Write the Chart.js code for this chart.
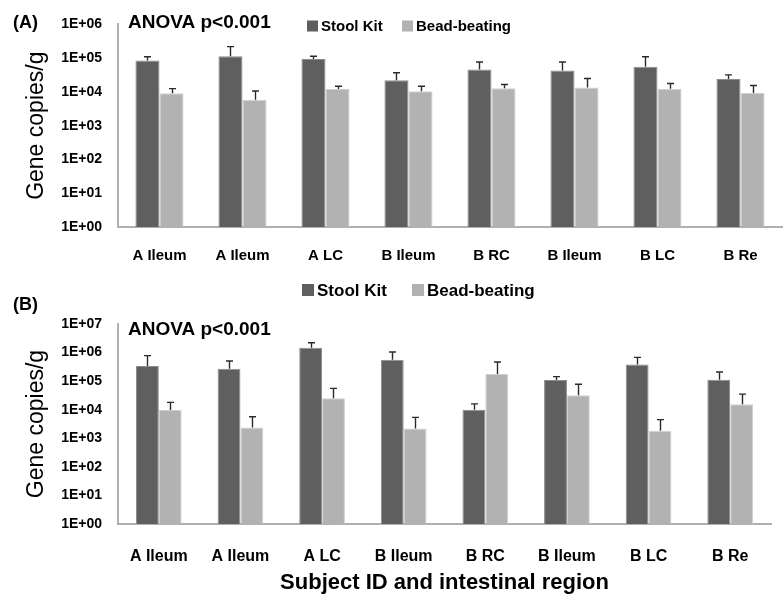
<!DOCTYPE html>
<html>
<head>
<meta charset="utf-8">
<script src="https://cdn.jsdelivr.net/npm/chart.js@4/dist/chart.umd.min.js"></script>
<style>
  html, body { margin: 0; padding: 0; background: #ffffff; }
  #wrap { position: relative; width: 783px; height: 599px; overflow: hidden; }
  #boxA { position: absolute; left: 0; top: 0; width: 783px; height: 275px; }
  #boxB { position: absolute; left: 0; top: 275px; width: 783px; height: 324px; }
</style>
</head>
<body>
<div id="wrap">
  <div id="boxA"><canvas id="chartA" width="783" height="275"></canvas></div>
  <div id="boxB"><canvas id="chartB" width="783" height="324"></canvas></div>
</div>
<script>
// ---------- data ----------
const categories = ['A Ileum', 'A Ileum', 'A LC', 'B Ileum', 'B RC', 'B Ileum', 'B LC', 'B Re'];
const seriesNames = ['Stool Kit', 'Bead-beating'];

// Panel A
const stoolA    = [86000, 114000, 95000, 22000, 46000, 43000, 56000, 24000];
const stoolAErr = [110000, 220000, 114000, 37000, 77000, 77000, 110000, 32000];
const beadA     = [9100, 5900, 12200, 10500, 12800, 13600, 12400, 9300];
const beadAErr  = [12500, 10700, 14800, 14800, 16600, 25000, 17700, 15500];

// Panel B
const stoolB    = [340000, 270000, 1480000, 560000, 10000, 110000, 380000, 112000];
const stoolBErr = [780000, 510000, 2200000, 1050000, 16000, 144000, 680000, 210000];
const beadB     = [9800, 2400, 25000, 2200, 178000, 32000, 1850, 15500];
const beadBErr  = [18000, 5700, 56000, 5400, 470000, 78000, 4500, 35000];

// Tick values and labels
const yTicksA = [1, 10, 100, 1000, 10000, 100000, 1000000];
const yTickLabelsA = ['1E+00', '1E+01', '1E+02', '1E+03', '1E+04', '1E+05', '1E+06'];
const yTicksB = [1, 10, 100, 1000, 10000, 100000, 1000000, 10000000];
const yTickLabelsB = ['1E+00', '1E+01', '1E+02', '1E+03', '1E+04', '1E+05', '1E+06', '1E+07'];

// Texts
const panelLabelA = '(A)';
const panelLabelB = '(B)';
const anovaText = 'ANOVA p<0.001';
const yTitle = 'Gene copies/g';
const xTitle = 'Subject ID and intestinal region';

// ---------- styles ----------
const FONT = "'Liberation Sans', Arial, sans-serif";
const DARK = '#5f5f5f';
const LIGHT = '#b2b2b2';
const AXIS = '#b0b0b0';

// error bar plugin: draws upper error whiskers from error arrays through the y scale
const errorBarPlugin = {
  id: 'errorBars',
  afterDatasetsDraw(chart) {
    const ctx = chart.ctx;
    const yScale = chart.scales.y;
    ctx.save();
    ctx.strokeStyle = '#2a2a2a';
    ctx.lineWidth = 1.4;
    chart.data.datasets.forEach((ds, d) => {
      const meta = chart.getDatasetMeta(d);
      if (!ds.errorTop) return;
      meta.data.forEach((el, i) => {
        const x = Math.round(el.x) + 0.5;
        const yTop = el.y;
        const yErr = yScale.getPixelForValue(ds.errorTop[i]);
        ctx.beginPath();
        ctx.moveTo(x, yTop);
        ctx.lineTo(x, yErr);
        ctx.moveTo(x - 3.5, yErr);
        ctx.lineTo(x + 3.5, yErr);
        ctx.stroke();
      });
    });
    ctx.restore();
  }
};

// annotation plugin: panel letter, ANOVA text, legend
function makeAnnotations(cfg) {
  return {
    id: 'annot',
    afterDraw(chart) {
      const ctx = chart.ctx;
      ctx.save();
      ctx.fillStyle = '#000';
      ctx.textBaseline = 'middle';
      ctx.textAlign = 'left';
      ctx.font = 'bold 18px ' + FONT;
      ctx.fillText(cfg.panel, 13, cfg.panelY);
      ctx.font = 'bold 19px ' + FONT;
      ctx.fillText(anovaText, 128, cfg.anovaY);
      // legend
      ctx.font = 'bold ' + cfg.legendSize + 'px ' + FONT;
      chart.data.datasets.forEach((ds, d) => {
        const item = cfg.legend[d];
        ctx.fillStyle = ds.backgroundColor;
        ctx.fillRect(item.x, cfg.legendY - cfg.sq / 2, cfg.sq, cfg.sq);
        ctx.fillStyle = '#000';
        ctx.fillText(ds.label, item.x + cfg.sq + 3, cfg.legendY + 1);
      });
      ctx.restore();
    }
  };
}

function makeChart(canvasId, stool, stoolErr, bead, beadErr, yTicks, yLabels, opts) {
  return new Chart(document.getElementById(canvasId), {
    type: 'bar',
    data: {
      labels: categories,
      datasets: [
        { label: seriesNames[0], data: stool, errorTop: stoolErr, backgroundColor: DARK,
          borderColor: '#8c8c8c', borderWidth: 1, borderSkipped: 'bottom' },
        { label: seriesNames[1], data: bead, errorTop: beadErr, backgroundColor: LIGHT,
          borderColor: '#cfcfcf', borderWidth: 1, borderSkipped: 'bottom' }
      ]
    },
    options: {
      responsive: false,
      animation: false,
      events: [],
      layout: { padding: { top: opts.padTop, right: opts.padRight, left: 0, bottom: 0 } },
      datasets: { bar: { categoryPercentage: opts.catPct, barPercentage: 1 } },
      plugins: { legend: { display: false }, tooltip: { enabled: false }, title: { display: false } },
      scales: {
        x: {
          grid: { display: false, drawTicks: false },
          border: { display: true, color: AXIS, width: 2 },
          ticks: { color: '#000', font: { family: FONT, size: opts.xTickSize, weight: 'bold' },
                   padding: opts.xTickPad, maxRotation: 0, autoSkip: false },
          title: opts.xTitle ? { display: true, text: xTitle, color: '#000',
                   font: { family: FONT, size: 22, weight: 'bold' }, padding: { top: 0, bottom: 3 } }
                 : { display: false },
          afterFit(s) { s.height = opts.xHeight; }
        },
        y: {
          type: 'logarithmic',
          min: yTicks[0],
          max: yTicks[yTicks.length - 1],
          grid: { display: false, drawTicks: false },
          border: { display: true, color: AXIS, width: 2 },
          afterBuildTicks(s) { s.ticks = yTicks.map(v => ({ value: v })); },
          ticks: {
            color: '#000',
            font: { family: FONT, size: 14, weight: 'bold' },
            padding: 16,
            callback: (v) => { const i = yTicks.indexOf(v); return i >= 0 ? yLabels[i] : ''; }
          },
          title: { display: true, text: yTitle, color: '#000',
                   font: { family: FONT, size: 23, weight: 'normal' }, padding: { top: 23, bottom: 0 } },
          afterFit(s) { s.width = 118; }
        }
      }
    },
    plugins: [errorBarPlugin, makeAnnotations(opts.annot)]
  });
}

makeChart('chartA', stoolA, stoolAErr, beadA, beadAErr, yTicksA, yTickLabelsA, {
  padTop: 17, padRight: 1, catPct: 0.58, xTickSize: 15, xTickPad: 20, xHeight: 48, xTitle: false,
  annot: { panel: panelLabelA, panelY: 23, anovaY: 23, legendY: 26, legendSize: 15, sq: 11,
           legend: [{ x: 307 }, { x: 402 }] }
});

makeChart('chartB', stoolB, stoolBErr, beadB, beadBErr, yTicksB, yTickLabelsB, {
  padTop: 49, padRight: 12, catPct: 0.56, xTickSize: 16, xTickPad: 23, xHeight: 75, xTitle: true,
  annot: { panel: panelLabelB, panelY: 30, anovaY: 55, legendY: 15, legendSize: 17, sq: 12,
           legend: [{ x: 302 }, { x: 412 }] }
});
</script>
</body>
</html>
